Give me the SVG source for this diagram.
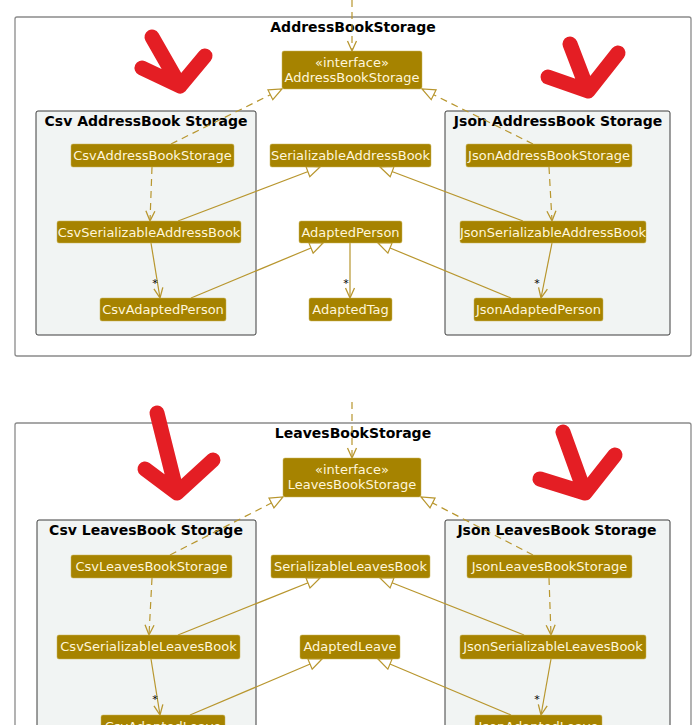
<svg xmlns="http://www.w3.org/2000/svg" width="692" height="725" viewBox="0 0 692 725">
<style>
.frame{fill:#ffffff;stroke:#8a8a8a;stroke-width:1.3}
.pkg{fill:#f1f4f3;stroke:#3c3c3c;stroke-width:1}
.ttl{font-family:"DejaVu Sans",sans-serif;font-size:14px;font-weight:bold;fill:#000;text-anchor:middle}
.node rect{fill:#a68300;stroke:#c9b45a;stroke-width:0.5}
.node text{font-family:"DejaVu Sans",sans-serif;font-size:13px;fill:#fff6da;text-anchor:middle}
.e{fill:none;stroke:#b8962e;stroke-width:1.2}
.d{stroke-dasharray:7,5}
.tri{marker-end:url(#tri)}
.arr{marker-end:url(#arr)}
.star{font-family:"DejaVu Sans",sans-serif;font-size:11px;fill:#000;text-anchor:middle}
.red{fill:none;stroke:#e41e24;stroke-width:15;stroke-linecap:round;stroke-linejoin:round}
</style>
<defs>
<marker id="tri" markerUnits="userSpaceOnUse" markerWidth="16" markerHeight="14" refX="13" refY="5.5" orient="auto" viewBox="-1 -1 16 14">
<path d="M0,0 L13,5.5 L0,11 Z" fill="#ffffff" stroke="#b8962e" stroke-width="1.2"/>
</marker>
<marker id="arr" markerUnits="userSpaceOnUse" markerWidth="14" markerHeight="12" refX="10" refY="4.5" orient="auto" viewBox="-1 -1 14 12">
<path d="M0,0 L10,4.5 L0,9" fill="none" stroke="#b8962e" stroke-width="1.3"/>
</marker>
</defs>

<!-- Top section -->
<g id="AddressBookStorageFrame">
<rect class="frame" x="15" y="17" width="676" height="339" rx="2"/>
<text class="ttl" x="353" y="32">AddressBookStorage</text>
</g>
<g id="CsvAddressBookStoragePkg">
<rect class="pkg" x="36" y="111" width="220" height="224" rx="2"/>
<text class="ttl" x="146" y="126">Csv AddressBook Storage</text>
</g>
<g id="JsonAddressBookStoragePkg">
<rect class="pkg" x="445" y="111" width="225" height="224" rx="2"/>
<text class="ttl" x="558" y="126">Json AddressBook Storage</text>
</g>

<!-- Bottom section -->
<g id="LeavesBookStorageFrame">
<rect class="frame" x="15" y="423" width="676" height="340" rx="2"/>
<text class="ttl" x="353" y="438">LeavesBookStorage</text>
</g>
<g id="CsvLeavesBookStoragePkg">
<rect class="pkg" x="37" y="520" width="219" height="240" rx="2"/>
<text class="ttl" x="146" y="535">Csv LeavesBook Storage</text>
</g>
<g id="JsonLeavesBookStoragePkg">
<rect class="pkg" x="445" y="520" width="225" height="240" rx="2"/>
<text class="ttl" x="557" y="535">Json LeavesBook Storage</text>
</g>

<g id="connectors">
<!-- top -->
<line class="e d arr" x1="352" y1="0" x2="352" y2="51"/>
<line class="e d tri" x1="171" y1="144" x2="282" y2="89"/>
<line class="e d tri" x1="533" y1="144" x2="422" y2="89"/>
<line class="e d arr" x1="152" y1="167" x2="150" y2="221"/>
<line class="e d arr" x1="549" y1="167" x2="552" y2="221"/>
<line class="e tri" x1="178" y1="221" x2="320" y2="167"/>
<line class="e tri" x1="523" y1="221" x2="380" y2="167"/>
<line class="e arr" x1="151" y1="243" x2="160" y2="298"/>
<line class="e tri" x1="191" y1="298" x2="323" y2="243"/>
<line class="e tri" x1="511" y1="298" x2="378" y2="243"/>
<line class="e arr" x1="552" y1="243" x2="541" y2="298"/>
<line class="e arr" x1="350" y1="243" x2="350" y2="298"/>
<text class="star" x="155" y="287">*</text>
<text class="star" x="537" y="287">*</text>
<text class="star" x="346" y="287">*</text>
<!-- bottom -->
<line class="e d arr" x1="352" y1="402" x2="352" y2="458"/>
<line class="e d tri" x1="170" y1="555" x2="283" y2="497"/>
<line class="e d tri" x1="533" y1="555" x2="421" y2="497"/>
<line class="e d arr" x1="152" y1="578" x2="149" y2="635"/>
<line class="e d arr" x1="549" y1="578" x2="551" y2="635"/>
<line class="e tri" x1="178" y1="635" x2="320" y2="578"/>
<line class="e tri" x1="524" y1="635" x2="380" y2="578"/>
<line class="e arr" x1="151" y1="659" x2="160" y2="715"/>
<line class="e tri" x1="190" y1="715" x2="322" y2="659"/>
<line class="e tri" x1="511" y1="715" x2="378" y2="659"/>
<line class="e arr" x1="551" y1="659" x2="541" y2="715"/>
<text class="star" x="155" y="703">*</text>
<text class="star" x="537" y="703">*</text>
</g>

<!-- top nodes -->
<g id="AddressBookStorage" class="node">
<rect x="282" y="51" width="140" height="38" rx="2"/>
<text x="352" y="67">«interface»</text>
<text x="352" y="82">AddressBookStorage</text>
</g>
<g id="CsvAddressBookStorage" class="node">
<rect x="71" y="144" width="163" height="23" rx="2"/>
<text x="152.5" y="160">CsvAddressBookStorage</text>
</g>
<g id="SerializableAddressBook" class="node">
<rect x="270" y="144" width="161" height="23" rx="2"/>
<text x="350.5" y="160">SerializableAddressBook</text>
</g>
<g id="JsonAddressBookStorage" class="node">
<rect x="466" y="144" width="166" height="23" rx="2"/>
<text x="549" y="160">JsonAddressBookStorage</text>
</g>
<g id="CsvSerializableAddressBook" class="node">
<rect x="57" y="221" width="184" height="22" rx="2"/>
<text x="149" y="237">CsvSerializableAddressBook</text>
</g>
<g id="AdaptedPerson" class="node">
<rect x="299" y="221" width="103" height="22" rx="2"/>
<text x="350.5" y="237">AdaptedPerson</text>
</g>
<g id="JsonSerializableAddressBook" class="node">
<rect x="460" y="221" width="186" height="22" rx="2"/>
<text x="553" y="237">JsonSerializableAddressBook</text>
</g>
<g id="CsvAdaptedPerson" class="node">
<rect x="100" y="298" width="126" height="23" rx="2"/>
<text x="163" y="314">CsvAdaptedPerson</text>
</g>
<g id="AdaptedTag" class="node">
<rect x="309" y="298" width="83" height="23" rx="2"/>
<text x="350.5" y="314">AdaptedTag</text>
</g>
<g id="JsonAdaptedPerson" class="node">
<rect x="474" y="298" width="129" height="23" rx="2"/>
<text x="538.5" y="314">JsonAdaptedPerson</text>
</g>

<!-- bottom nodes -->
<g id="LeavesBookStorage" class="node">
<rect x="283" y="458" width="138" height="39" rx="2"/>
<text x="352" y="474">«interface»</text>
<text x="352" y="489">LeavesBookStorage</text>
</g>
<g id="CsvLeavesBookStorage" class="node">
<rect x="71" y="555" width="161" height="23" rx="2"/>
<text x="151.5" y="571">CsvLeavesBookStorage</text>
</g>
<g id="SerializableLeavesBook" class="node">
<rect x="271" y="555" width="159" height="23" rx="2"/>
<text x="350.5" y="571">SerializableLeavesBook</text>
</g>
<g id="JsonLeavesBookStorage" class="node">
<rect x="467" y="555" width="165" height="23" rx="2"/>
<text x="549.5" y="571">JsonLeavesBookStorage</text>
</g>
<g id="CsvSerializableLeavesBook" class="node">
<rect x="57" y="635" width="183" height="24" rx="2"/>
<text x="148.5" y="651">CsvSerializableLeavesBook</text>
</g>
<g id="AdaptedLeave" class="node">
<rect x="300" y="635" width="100" height="24" rx="2"/>
<text x="350" y="651">AdaptedLeave</text>
</g>
<g id="JsonSerializableLeavesBook" class="node">
<rect x="460" y="635" width="186" height="24" rx="2"/>
<text x="553" y="651">JsonSerializableLeavesBook</text>
</g>
<g id="CsvAdaptedLeave" class="node">
<rect x="101" y="715" width="124" height="24" rx="2"/>
<text x="163" y="731">CsvAdaptedLeave</text>
</g>
<g id="JsonAdaptedLeave" class="node">
<rect x="475" y="715" width="127" height="24" rx="2"/>
<text x="538.5" y="731">JsonAdaptedLeave</text>
</g>

<!-- red annotation arrows -->
<g id="annotations">
<path class="red" d="M152,37 L180,86 M142,68 L180,86 L205,56"/>
<path class="red" d="M570,44 L588,91 M548,77 L588,91 L618,53"/>
<path class="red" d="M157,413 L177,493 M145,469 L177,493 L213,460"/>
<path class="red" d="M563,432 L585,493 M540,479 L585,493 L615,455"/>
</g>
</svg>
